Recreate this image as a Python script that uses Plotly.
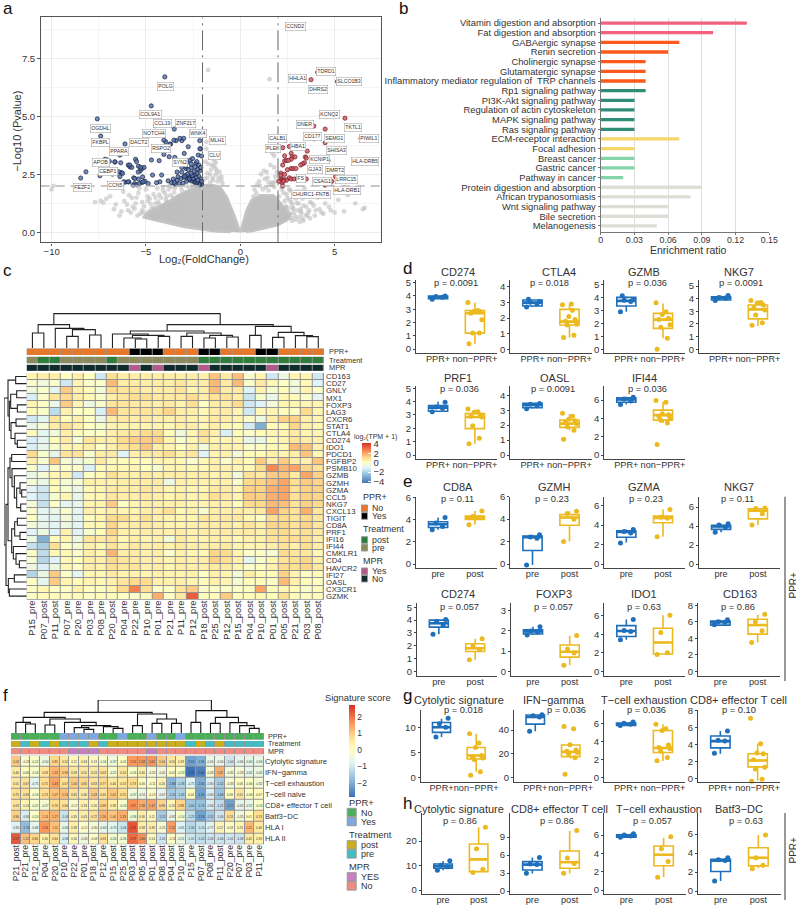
import plotly.graph_objects as go

W, H = 796, 905
FONT = "Liberation Sans"
INK = "#2a2a2a"

# ---------------------------------------------------------------- panel a
BLUE_X = [-8.46,-8.18,-7.58,-7.40,-7.44,-7.26,-7.35,-7.17,-7.05,-6.94,-6.64,-6.41,-6.38,-6.34,-6.77,-6.43,-6.29,-6.24,-6.38,-6.11,-6.11,-5.94,-5.85,-5.9,-5.6,-5.65,-5.55,-5.5,-5.75,-5.4,-5.3,-5.2,-5.1,-5.5,-5.35,-5.2,-5.05,-5.4,-4.72,-4.5,-4.65,-4.7,-4.3,-4.0,-3.5,-3.95,-3.7,-3.4,-3.1,-3.0,-2.35,-2.15,-2.1,-2.14,-2.23,-2.05,-2.76,-3.2,-3.73,-4.05,-3.52,-2.97,-2.65,-2.35,-3.23,-2.88,-2.53,-4.71,-4.3,-4.05,-3.77,-3.47,-4.17,-3.82,-3.64,-4.26,-4.44,-4.65,-4.88,-5.15,-5.29,-5.41,-5.18,-5.68,-5.59,-5.86,-5.95,-6.18,-6.65,-2.05,-2.1,-2.15,-2.2,-2.3,-2.35,-2.4,-2.45,-2.5,-2.55,-2.6,-2.65,-2.7,-2.75,-2.8,-2.9,-3.0,-2.1,-2.2,-2.25,-2.35,-2.4,-2.5,-2.55,-2.6,-2.7,-2.8,-2.85,-2.95,-3.05,-3.15,-3.25,-3.35,-3.45,-3.55,-2.15,-2.25,-2.3,-2.45,-2.6,-2.75,-2.9,-3.1,-3.3,-3.5,-2.2,-2.4,-2.6,-2.85,-3.1,-3.35,-2.05,-2.1,-2.3]
BLUE_Y = [2.34,2.61,4.89,4.15,2.44,3.84,3.81,3.15,3.12,3.06,3.03,3.48,3.33,3.0,2.51,2.61,2.57,2.54,2.4,3.81,2.16,2.9,2.82,2.17,2.1,2.35,3.15,3.05,2.8,2.85,2.65,2.75,2.8,2.05,2.1,2.15,2.2,2.3,5.45,4.6,4.2,4.25,3.6,6.7,4.45,3.9,3.8,3.95,3.95,4.05,4.2,3.95,3.6,3.6,3.33,3.29,3.69,4.05,3.8,3.97,3.97,3.4,3.11,2.97,2.97,2.75,3.18,3.12,3.09,3.36,3.26,3.23,2.47,2.22,2.14,2.18,2.14,2.47,2.1,2.18,2.8,2.6,2.39,2.03,2.32,2.9,2.18,2.18,3.04,2.08,2.12,2.05,2.1,2.15,2.12,2.2,2.18,2.25,2.3,2.22,2.35,2.28,2.4,2.3,2.45,2.38,2.3,2.42,2.25,2.38,2.5,2.32,2.45,2.55,2.3,2.5,2.2,2.42,2.12,2.32,2.1,2.25,2.08,2.3,2.65,2.72,2.55,2.62,2.78,2.7,2.85,2.6,2.4,2.15,2.9,2.82,2.95,3.0,2.8,2.6,2.2,2.8,3.05]
RED_X = [2.5,4.1,3.4,3.75,5.15,4.3,5.55,3.9,4.5,3.9,6.4,2.35,4.5,2.25,2.6,3.55,2.35,2.7,2.75,2.9,2.7,3.45,3.5,3.4,3.3,3.2,2.35,2.45,2.55,2.25,4.65,6.25,2.7,2.8,2.95,2.5,2.15,2.15,2.35,2.6,2.15,2.2,2.3,2.35,2.45,2.7,2.85,3.05,3.5,2.2,2.3,2.05,5.05,4.85,4.75,4.5,2.25,3.05]
RED_Y = [8.85,6.9,6.6,6.58,6.5,5.05,4.92,4.58,4.45,4.03,4.05,3.97,3.86,3.65,3.7,3.5,3.3,3.4,3.25,3.25,3.15,3.25,3.2,3.0,2.95,2.9,3.08,3.1,3.1,2.9,3.1,3.03,2.75,2.75,2.75,2.7,2.55,2.45,2.5,2.35,2.3,2.25,2.25,2.27,2.25,2.3,2.3,2.27,2.3,2.15,2.2,2.2,2.4,2.2,2.1,2.03,2.0,2.35]
GRAY_X = [-9.9,-10.0,-7.4,-7.7,-7.1,-7.25,-6.7,-6.3,-6.0,-5.8,-5.5,-5.2,-4.9,-6.2,-5.9,-5.7,-5.4,-5.0,-4.8,-4.6,-4.4,-4.5,-4.2,-4.0,-3.8,-3.6,-4.6,-4.3,-3.9,-1.7,-1.8,-1.8,-1.6,-1.4,-1.3,-1.5,-1.1,-1.0,-1.3,-1.6,-1.45,-1.2,-1.75,-1.55,-0.95,1.55,1.7,1.8,1.4,1.1,1.6,1.8,1.3,0.9,1.0,1.5,1.75,1.95,1.85,0.75,2.3,2.5,2.7,2.9,3.1,3.3,3.5,3.7,3.9,4.2,4.5,4.8,5.2,5.5,5.7,6.1,6.5,6.6,2.4,2.8,3.2,3.6,4.0,4.4,4.7,5.0,3.0,3.4,2.2,2.6]
GRAY_Y = [2.0,1.85,1.35,1.3,1.45,1.28,1.0,0.9,1.2,0.85,1.5,0.95,1.35,1.75,1.6,1.1,1.7,1.85,1.45,1.65,1.9,1.25,1.5,1.7,1.85,1.95,1.05,1.2,1.55,7.0,3.9,3.6,3.4,3.1,3.0,2.9,2.6,2.4,2.75,2.5,2.25,2.2,2.35,2.7,2.1,6.6,3.4,3.3,2.6,2.5,2.9,2.8,2.3,2.05,2.2,2.15,2.1,2.6,2.4,1.85,1.7,1.5,1.3,1.6,1.25,1.45,1.1,1.3,1.7,1.0,1.25,0.95,1.4,0.9,1.6,1.25,1.0,1.05,1.1,1.0,0.9,0.85,0.95,0.8,1.1,0.85,1.75,1.9,1.95,1.85]
GRAY2_X = [-5.6,-5.3,-5.1,-4.95,-4.75,-4.55,-4.35,-4.15,-3.95,-3.75,-3.55,-3.35,-3.15,-2.95,-2.75,-2.55,-2.35,-5.45,-5.15,-4.85,-4.65,-4.45,-4.25,-4.05,-3.85,-3.65,-3.45,-3.25,-3.05,-2.85,-2.65,-2.45,-2.25,-5.2,-4.9,-4.7,-4.5,-4.3,-4.1,-3.9,-3.7,-3.5,-3.3,-3.1,-2.9,-2.7,-2.5,-2.3,-4.6,-4.4,-4.2,-4.0,-3.8,-3.6,-3.4,-3.2,-3.0,-2.8,-2.6,-2.4,-2.2,-4.1,-3.75,-3.45,-3.15,-2.85,-2.55,-2.25,-6.4,-6.15,-5.95,-5.75,-5.55,-5.35,-6.6,-6.9,-1.9,-1.75,-1.6,-1.45,-1.3,-1.15,-1.0,-1.85,-1.7,-1.55,-1.4,-1.25,2.05,2.15,2.25,2.35,2.45,2.55,2.65,2.75,2.85,2.95,3.05,3.15,3.25,3.35,3.45,3.55,3.65,3.8,3.95,4.1,4.3,2.1,2.2,2.3,2.4,2.5,2.6,2.7,2.8,2.9,3.0,3.1,3.2,3.3,3.5,3.7,3.9,2.15,2.35,2.55,2.75,2.95,3.15,3.35,1.2,1.35,1.5,1.65,1.8,1.9,1.05,0.85,0.7,1.45,1.7,1.25]
GRAY2_Y = [1.02,0.8,1.12,0.78,1.22,0.95,1.32,1.05,1.42,1.12,1.5,1.2,1.62,1.3,1.75,1.45,1.88,0.72,0.85,0.9,0.82,1.05,0.85,1.15,0.95,1.25,1.0,1.4,1.1,1.55,1.2,1.7,1.8,1.3,1.55,1.02,1.5,1.62,1.8,1.3,1.6,1.72,1.55,1.82,1.72,1.92,1.95,1.98,0.72,0.68,0.75,0.78,0.7,0.85,0.82,0.9,0.88,0.8,0.95,1.0,1.1,1.95,2.0,1.92,1.98,2.0,2.02,2.05,0.72,1.35,0.95,1.48,1.25,1.9,1.2,1.55,2.3,2.55,2.15,2.35,2.5,2.35,2.25,3.05,2.95,3.2,2.85,2.65,1.55,1.2,0.95,1.35,1.65,1.05,1.8,1.2,0.85,1.45,0.95,1.75,0.8,1.15,1.55,0.7,0.95,1.25,0.72,1.5,0.85,0.8,1.85,0.65,1.1,0.7,1.4,0.62,1.05,0.7,1.25,0.65,1.0,0.6,0.75,0.6,1.15,0.5,0.55,0.6,0.5,0.55,0.45,0.5,1.85,1.95,1.8,2.05,1.95,2.2,2.0,1.7,1.55,2.35,2.15,2.65]
MASS_LEFT_X = [0.0,-0.3,-0.72,-1.08,-1.45,-1.97,-3.03,-3.9,-4.78,-5.15,-4.0,-3.03,-2.0,-1.24,-0.5]
MASS_LEFT_Y = [0.0,0.7,1.53,1.97,2.03,2.04,1.69,1.3,0.88,0.65,0.42,0.24,0.12,0.04,0.01]
MASS_RIGHT_X = [0.0,0.34,0.6,1.04,1.74,2.0,2.3,2.7,2.46,2.0,0.87,0.3]
MASS_RIGHT_Y = [0.0,0.96,1.39,1.6,1.6,1.4,1.05,0.8,0.52,0.31,0.1,0.01]
THRESH_FC = [-2, 2]
THRESH_P = 2
VOLCANO_LABELS = [("CCND2",886,67),("TDRD1",977,202),("HHLA1",893,223),("SLCO1B3",1048,230),("DHRS2",955,254),("POLG",472,247),("COL9A1",418,329),("KCNQ2",987,329),("CCL19",460,358),("ZNF217",524,358),("DNER",916,361),("TKTL1",1060,369),("OGDHL",270,372),("NOTCH4",427,388),("WNK4",567,386),("CD177",937,397),("SEMG1",1003,402),("PIWIL1",1106,401),("MLH1",627,408),("CALB1",833,403),("FKBPL",272,414),("DACT2",386,414),("RSPO2",453,432),("PLEK",818,433),("HBA1",893,426),("SHISA3",1010,437),("PPARA",327,442),("CLU",625,453),("KCNIP1",959,465),("HLA-DRB5",1095,471),("APOB",276,473),("SYN2",516,473),("GJA3",945,494),("DMRT2",1006,497),("CEBP1",295,502),("FS",902,522),("LRRC15",1039,525),("CSAG1",966,530),("CCN5",322,542),("FEZF2",219,548),("HLA-DRB1",1040,558),("CHURC1-FNTB",934,571)]

# ---------------------------------------------------------------- panel b
PATHWAYS = ["Vitamin digestion and absorption","Fat digestion and absorption","GABAergic synapse","Renin secretion","Cholinergic synapse","Glutamatergic synapse","Inflammatory mediator regulation of  TRP channels","Rp1 signaling pathway","PI3K-Akt signaling pathway","Regulation of actin cytoskeleton","MAPK signaling pathway","Ras signaling pathway","ECM-receptor interaction","Focal adhesion","Breast cancer","Gastric cancer","Pathway in cancer","Protein digestion and absorption","African trypanosomiasis","Wnt signaling pathway","Bile secretion","Melanogenesis"]
ENRICH = [.13,.10,.07,.06,.04,.04,.04,.04,.03,.03,.03,.03,.07,.03,.03,.03,.02,.09,.08,.06,.06,.05]
PATH_COLORS = ["#f2627c"]*2+["#fb5a1c"]*5+["#2f8c76"]*5+["#f6d56b"]*2+["#84d4aa"]*3+["#deded7"]*5

# ---------------------------------------------------------------- panel c
C_COLS = ["P15_pre","P07_post","P11_post","P07_pre","P20_pre","P03_pre","P08_pre","P20_post","P04_pre","P22_pre","P10_pre","P01_pre","P21_pre","P11_pre","P12_pre","P18_post","P25_post","P12_post","P15_post","P04_post","P10_post","P01_post","P05_post","P21_post","P03_post","P08_post"]
C_ROWS = ["CD163","CD27","GNLY","MX1","FOXP3","LAG3","CXCR6","STAT1","CTLA4","CD274","IDO1","PDCD1","FGFBP2","PSMB10","GZMB","GZMH","GZMA","CCL5","NKG7","CXCL13","TIGIT","CD8A","PRF1","IFI16","IFI44","CMKLR1","CD4","HAVCR2","IFI27","OASL","CX3CR1","GZMK"]
C_VALUES = [
[.3,.5,.5,0,.5,0,-1.5,.9,.5,.5,.5,.5,.5,.4,.5,.4,1.4,.6,1.5,-.3,.3,-1.5,-.7,.3,.3,-1.5],
[-.2,-.6,-.2,-1.5,.3,-.2,-.2,1.6,.5,.5,.5,.5,.5,.7,.5,.5,1.6,.6,1.6,-.3,.6,.2,-.1,-.5,.2,-1.2],
[-.6,-.2,-1,1.3,.4,.1,-.5,1,.7,.7,.5,.5,.5,.7,.3,.5,1.5,.5,.6,-1.2,.3,-.3,.1,-.7,.3,-.2],
[-1.3,-.2,.7,1,.5,.2,-.2,.5,.7,.9,.9,.6,.6,.6,1,.5,.8,.8,.5,-1.6,-.3,-.8,.2,.1,-.2,-1.1],
[.3,-.1,-.8,1.3,.3,-.7,-.3,.7,.7,.6,.6,.4,.6,.3,.9,-.1,.5,.5,1,-1.5,-1.2,-.5,.3,.3,.3,.3],
[.1,-.2,-1.8,.4,-.1,0,-1.3,1.6,.7,.7,.8,.7,1.1,.5,.5,.2,.5,.6,.3,-1.5,.2,.3,.1,-.1,1,.3],
[-1.5,-1.1,.7,.1,.4,-.1,-.8,.5,.6,.5,.6,.4,.4,.5,.4,.3,.6,.5,.3,-.2,-.7,.5,1.2,1.2,.4,.3],
[-.8,-.4,.5,.9,.4,0,-.3,.3,.3,.3,.3,.3,.2,.4,.5,.2,.5,.2,.1,-1.4,-3,.1,.2,1.1,.4,.2],
[.1,-1,-.6,.5,.1,-.1,-.1,.4,.6,.7,1,1,.1,-.6,.3,.9,.4,-1.3,.1,-.2,.1,.3,.3,.6,.3,.3],
[-1.3,-1,.1,.6,-.4,.7,.4,.5,1,1.2,1.3,1.2,.3,-.3,.3,.7,.3,.3,.3,-.9,-.8,.1,.3,.7,.5,.4],
[-1.3,-.9,-.3,.3,.3,.5,-.1,.5,.8,.9,1.4,.5,.3,0,.4,-.5,.4,.4,.3,-.2,-.1,.2,.2,1.6,1.5,.4],
[1,-.3,-.9,.8,.8,-.3,.5,.6,-1.2,.4,.6,.6,.9,.4,.7,-1.2,.3,.4,-.5,.1,.1,.5,.3,.5,1.4,.2],
[.4,-.4,1.4,-.4,-.7,-.3,.6,.2,.1,.1,.1,.3,.3,.2,-.2,.2,.4,-.2,.4,.1,1.3,.5,1.3,.5,.4,1.4],
[-.2,-1.2,-.2,-.1,-.2,-1.3,.1,.2,.2,.3,0,-.3,.3,.3,.2,.2,.4,.4,.3,.2,.9,2.5,1.7,2,1.1,.8],
[-.8,-.4,.2,.3,-1.5,-.1,.2,.9,.5,.4,.6,.5,.5,.5,.5,.5,.3,.4,-.5,.8,.6,1.3,1.4,.6,2,1.2],
[-.4,-.8,.2,-.4,-.4,.4,.4,.4,.5,.5,.5,.6,-.7,.4,.4,.4,.4,.4,-.2,1,1.1,1.5,2,.9,1.3,1.1],
[-1.1,-1.5,.1,-.3,-.8,.2,.3,.6,.5,.5,.7,.5,.3,.4,.3,.3,.6,.6,.3,1.2,1.1,1.8,2,.8,1.2,1.2],
[-1.2,-1.6,-.3,.3,-.9,.2,.2,.7,.5,.5,.6,.5,.3,.5,.3,.4,.9,.6,.3,1.3,1.2,1.8,2,.8,1.2,1.1],
[-.5,-1.7,-.1,-1,-.9,.3,.3,1.3,-.1,.3,.5,.4,.4,.4,.3,.3,.4,.4,0,1,1,1.6,1.5,.8,1.2,1],
[-.2,-1.1,-.8,-.3,-1,.4,.2,.5,.3,.3,.5,.5,.9,.2,.4,-.3,.5,.5,.5,.5,.6,2,1.2,.8,1.8,.7],
[-.1,-1,-1,-.5,-1.1,.1,.3,1,1,.4,.9,.4,.3,.3,.3,.7,.5,.6,.6,.2,-.1,.9,1,.7,1,.7],
[-.5,-.9,-1.1,-.7,-1.1,.2,.2,1.1,.5,.5,.6,.5,.3,.3,.4,.5,.5,.6,.4,.7,.5,1.1,1.1,.8,1.1,.7],
[-1.2,-.7,-1.2,.4,-1.2,-.3,.1,1.1,.4,.4,.5,.4,.4,.5,.4,.5,.5,.6,.5,.6,.4,.9,1,.7,.9,.6],
[-.7,-3,.1,.3,-.7,.7,.6,.8,.2,.5,.3,.4,-.5,.6,.4,.3,.5,.4,.2,.4,.4,.8,.9,.9,.9,.5],
[-1.7,-2.2,.9,-.1,-.4,.4,.2,.8,.4,.6,.5,.5,.4,.6,.5,.5,.5,.6,.3,.3,.3,.5,.8,.4,.9,.5],
[-.1,-1.8,.2,.2,-.2,.5,.3,1.7,.5,.6,.4,.5,-.2,.4,.3,.2,1.1,1,.3,-.2,-.1,-.4,1,.7,.7,.2],
[-.4,-2,-1.2,.2,.1,.5,.4,1,.7,.6,.5,.5,.3,.5,.4,.5,1.2,.9,.4,-1,-.3,.3,.8,.9,1.1,.5],
[-.7,-1.3,-.7,.2,-.1,.5,.4,.9,.7,.7,.4,.5,.3,.5,.5,.5,.6,.6,.3,-.2,0,.4,1,.9,1.1,.6],
[-2,-.8,1.3,-.2,-1,.2,.2,.6,.3,.3,.3,.4,.3,.3,.4,-.1,.4,.3,-.5,.5,.1,.1,1.2,.3,-.1,.1],
[-.1,-1,1.3,.3,.1,.3,.2,.4,.7,1,1,.4,.4,.4,.3,.1,.4,.3,-.4,.1,.1,-.1,1.6,.4,.1,0],
[-.1,.2,-.1,-.1,.4,0,-.1,.3,1,2.6,.9,-.1,-.1,.7,1.3,-.2,-.1,-.1,-.1,-.1,2,.1,.2,.1,-.2,.1],
[-.1,.1,.1,.1,.1,-.1,.1,.1,-.1,-.2,.1,1.8,-.1,.6,3.3,.1,.1,1.3,.1,.1,.2,.1,.9,.1,.1,.1],
]
C_PPR = [0,0,0,0,0,0,0,0,0,1,1,1,0,0,0,1,1,0,0,0,1,1,0,0,0,0]
C_MPR = [0,0,0,0,0,0,0,0,0,1,0,1,0,0,0,1,0,0,0,0,0,1,0,0,0,0]
C_TREE_TOP = [103,[70,[45,0,1],[59,2,[55,[35,3,4],[39,5,6]]]],[70,[51,[42,7,[38,[30,8,[27,9,10]],[35,11,12]]],[45,[35,13,14],[38,[30,15,16],[33,17,18]]]],[65,[38,19,20],[47,[32,21,22],[37,23,[34,24,25]]]]]]
C_TREE_LEFT = [68,[56,[33,0,1],[52,[48,[30,2,3],[28,4,5]],[47,[32,6,7],[35,8,[28,9,10]]]]],[62,[56,[50,[45,11,12],[44,13,[37,14,[30,[20,15,[15,16,17]],[18,18,19]]]]],[45,[36,[28,20,21],[20,22,23]],[40,24,[32,25,[22,26,27]]]]],[55,[37,28,29],[52,30,31]]]]

# ---------------------------------------------------------------- panel f
F_COLS = ["P21_post","P21_pre","P12_post","P04_pre","P20_post","P10_pre","P22_pre","P01_pre","P18_post","P12_pre","P15_post","P25_post","P03_post","P05_post","P01_post","P08_post","P04_post","P10_post","P15_pre","P07_post","P08_pre","P11_post","P20_pre","P07_pre","P03_pre","P11_pre"]
F_ROWS = ["Cytolytic signature","IFN−gamma","T−cell exhaustion","T−cell naive","CD8+ effector T cell","Batf3−DC","HLA I","HLA II"]
F_VALUES = [
[1.03,-.23,-.12,-.50,.85,.52,.11,.34,.13,-.16,-.37,-.02,1.55,1.58,1.61,1.04,.55,.33,-2.16,-1.96,-.56,-.56,-1.04,-.66,-.60,-.56],
[.46,.06,-.16,.58,1.23,.99,.58,.55,.53,.63,-.22,.53,-.16,.40,-.32,-.41,.02,-.13,-2.79,-2.60,-.28,1.31,-.35,-.28,-.62,-.45],
[.55,.67,-.75,.75,1.43,.67,1.00,.85,.63,.77,.46,.53,.73,.06,-.11,.26,-1.86,-1.38,-.75,-2.00,-.90,-1.52,-.33,.06,-.06,-.32],
[.75,.69,-.16,.73,1.07,1.13,.65,.46,1.03,.60,1.02,.75,-.37,-.51,-.13,-.67,-1.55,-1.43,.04,-2.16,-.90,-1.66,.09,.55,-.06,.07],
[.63,.24,-.22,-.27,.76,.66,-.17,.33,.26,.89,.38,-.16,1.67,1.38,1.47,.89,.20,.88,-1.60,-1.70,-.94,-1.22,-2.17,-.65,-.57,-.16],
[.96,-.93,-.10,1.14,1.27,-1.09,.35,.43,.72,1.26,1.06,1.33,-.36,.36,.11,-1.52,-.62,-.14,-1.23,-2.18,-1.55,-1.06,.74,-.35,.01,.74],
[-.80,-1.76,-.68,1.58,1.11,-.63,.38,-.12,-.30,-.63,-.70,-1.06,2.31,.38,.39,-.25,1.52,-.81,-1.30,-1.10,-.77,.22,.03,.23,1.21,.46],
[2.27,1.12,.86,.30,.64,-.86,.16,-.43,-.09,.63,-.26,-.26,2.07,1.66,.14,-1.05,-.11,-.51,-1.01,-1.20,-1.03,-1.06,-1.01,-1.08,.45,.33],
]
F_PPR = [0,0,0,0,0,1,1,1,1,0,0,1,0,0,1,0,0,1,0,0,0,0,0,0,0,0]
F_MPR = [0,0,0,0,0,0,1,1,1,0,0,0,0,0,1,0,0,0,0,0,0,0,0,0,0,0]
F_TREE = [99,[62,[47,[32,0,[27,1,2]],[42,[24,3,4],[32,5,[22,[16,6,[11,7,8]],[19,9,[14,10,11]]]]]],[57,[22,12,13],[42,[29,14,15],[29,16,17]]]],[67,[32,18,19],[47,[29,20,21],[31,22,[22,23,[14,24,25]]]]]]

# ---------------------------------------------------------------- box panels
# box = (lower whisker, q1, median, q3, upper whisker)
PN = ["PPR+", "non−PPR+"]
PP = ["pre", "post"]
d_CD274 = dict(title="CD274", p="p = 0.0091", cats=PN, ticks=[0,1,2,3,4,5], a=(3.75,3.8,3.9,4.0,4.0), b=(.4,1.2,2.7,2.9,3.5), pa=[3.75,3.9,3.95,4.0], pb=[.4,1.2,1.2,2.2,2.7,2.8,2.85,2.9,3.5])
d_CTLA4 = dict(title="CTLA4", p="p = 0.018", cats=PN, ticks=[0,1,2,3,4], a=(2.7,2.77,2.98,3.15,3.2), b=(.75,1.55,1.77,2.55,2.9), pa=[2.7,2.9,3.0,3.05,3.2], pb=[.75,.9,1.55,1.6,1.8,1.9,2.1,2.5,2.85,2.9])
d_GZMB = dict(title="GZMB", p="p = 0.036", cats=PN, ticks=[0,1,2,3,4,5], a=(2.9,3.35,3.75,4.02,4.1), b=(.85,1.62,2.3,2.78,3.55), pa=[2.9,3.7,3.8,3.85,4.15], pb=[0,.85,1.7,1.9,2.3,2.4,2.7,2.9,3.6])
d_NKG7 = dict(title="NKG7", p="p = 0.0091", cats=PN, ticks=[0,1,2,3,4,5], a=(3.85,3.9,4.05,4.15,4.25), b=(1.85,2.4,3.15,3.5,3.85), pa=[3.85,4.05,4.1,4.25], pb=[1.9,2.1,2.7,3.1,3.3,3.5,3.65,3.7,3.85])
d_PRF1 = dict(title="PRF1", p="p = 0.036", cats=PN, ticks=[0,1,2,3,4,5], a=(3.25,3.28,3.55,3.7,4.0), b=(.85,1.98,2.85,3.1,3.4), pa=[3.25,3.5,3.6,3.95], pb=[.85,1.25,2.2,2.85,2.9,3.0,3.2,3.25,3.45])
d_OASL = dict(title="OASL", p="p = 0.0091", cats=PN, ticks=[0,1,2,3,4], a=(3.1,3.17,3.35,3.46,3.5), b=(1.65,1.85,2.1,2.35,2.75), pa=[3.1,3.3,3.4,3.45], pb=[1.05,1.65,1.9,2.1,2.2,2.3,2.4,2.6,2.8])
d_IFI44 = dict(title="IFI44", p="p = 0.036", cats=PN, ticks=[0,2,4,6], a=(5.5,5.75,6.05,6.25,6.35), b=(3.5,3.8,4.35,4.9,5.8), pa=[5.5,5.9,6.1,6.3], pb=[1.15,3.5,3.8,4.0,4.2,4.4,4.5,5.75,5.95])
e_CD8A = dict(title="CD8A", p="p = 0.11", cats=PP, ticks=[0,2,4,6], a=(3.1,3.3,3.6,3.82,4.2), b=(3.55,4.03,4.2,4.35,4.8), pa=[3.1,3.4,3.7,4.2], pb=[3.55,4.2,4.3,4.8])
e_GZMH = dict(title="GZMH", p="p = 0.23", cats=PP, ticks=[0,2,4,6], a=(-.1,1.2,2.4,2.5,2.6), b=(2.0,3.45,4.15,4.4,4.7), pa=[-.1,2.3,2.4,2.6], pb=[2.0,4.0,4.5,4.7])
e_GZMA = dict(title="GZMA", p="p = 0.23", cats=PP, ticks=[0,2,4,6], a=(2.2,2.75,3.3,3.42,3.55), b=(2.8,4.25,4.75,4.93,5.6), pa=[2.15,3.2,3.35,3.55], pb=[2.8,4.7,4.8,5.6])
e_NKG7 = dict(title="NKG7", p="p = 0.11", cats=PP, ticks=[0,2,4,6], a=(3.35,3.65,3.95,4.07,4.25), b=(4.1,4.75,5.6,5.8,5.9), pa=[3.35,3.9,4.1,4.25], pb=[4.1,5.3,5.85,5.9])
e_CD274 = dict(title="CD274", p="p = 0.057", cats=PP, ticks=[0,1,2,3,4,5], a=(2.9,3.45,3.75,4.0,4.05), b=(.9,1.55,1.8,2.15,2.55), pa=[2.9,3.6,3.9,4.05], pb=[.9,1.7,2.0,2.55])
e_FOXP3 = dict(title="FOXP3", p="p = 0.057", cats=PP, ticks=[0,1,2,3], a=(1.8,1.85,1.97,2.05,2.2), b=(.3,.7,.97,1.3,1.75), pa=[1.8,1.95,2.0,2.2], pb=[.3,.9,1.1,1.77])
e_IDO1 = dict(title="IDO1", p="p = 0.63", cats=PP, ticks=[0,2,4,6], a=(3.4,3.75,4.35,4.93,5.6), b=(1.8,1.87,3.1,4.64,6.05), pa=[3.4,4.3,4.4,5.6], pb=[1.8,2.0,4.2,6.05])
e_CD163 = dict(title="CD163", p="p = 0.86", cats=PP, ticks=[0,2,4,6,8], a=(5.65,5.6,5.95,6.1,6.25), b=(3.5,4.5,5.6,6.3,6.85), pa=[5.65,5.95,6.0,6.25], pb=[3.5,4.9,6.0,6.9])
g_CYT = dict(title="Cytolytic signature", p="p = 0.018", cats=PN, ticks=[0,5,10], a=(8.1,9.05,10.1,11.05,11.8), b=(1.1,3.7,4.4,6.0,8.8), pa=[8.1,10.1,10.8,11.9], pb=[.4,1.1,3.6,3.9,4.1,4.4,6.0,6.9,8.8])
g_IFN = dict(title="IFN−gamma", p="p = 0.036", cats=PN, ticks=[0,20,40], a=(39,45,51,52.7,53), b=(16,17.5,21.5,27.3,28), pa=[39,51,52,53], pb=[2.5,16.5,20,21,22,23,27.5,41,43])
g_TEX = dict(title="T−cell exhaustion", p="p = 0.036", cats=PN, ticks=[0,2,4,6], a=(5.7,5.75,5.9,6.02,6.15), b=(1.8,2.75,3.25,5.2,5.9), pa=[5.75,5.9,6.0,6.15], pb=[1.85,2.2,2.9,3.2,3.3,3.6,5.2,5.4,5.9])
g_CD8 = dict(title="CD8+ effector T cell", p="p = 0.10", cats=PN, ticks=[0,2,4,6,8], a=(2.9,3.6,4.4,5.0,5.6), b=(-.3,1.35,2.1,2.9,4.1), pa=[2.95,4.4,4.5,5.6], pb=[-.35,-.1,1.1,1.3,2.2,2.9,3.0,4.1,7.1])
h_CYT = dict(title="Cytolytic signature", p="p = 0.86", cats=PP, ticks=[0,10,20], a=(8.1,8.85,9.7,10.6,11.8), b=(7.0,7.5,12.5,18.8,25.5), pa=[8.1,9.5,10.1,11.9], pb=[7.1,8.5,16.8,25.6])
h_CD8 = dict(title="CD8+ effector T cell", p="p = 0.86", cats=PP, ticks=[0,3,6,9], a=(2.9,3.5,4.4,4.9,5.6), b=(2.9,3.8,4.8,6.67,10.0), pa=[2.95,4.4,4.5,5.6], pb=[2.95,4.6,5.5,10.1])
h_TEX = dict(title="T−cell exhaustion", p="p = 0.057", cats=PP, ticks=[0,2,4,6], a=(5.7,5.75,5.9,6.02,6.15), b=(1.4,2.65,3.85,4.8,5.7), pa=[5.75,5.9,6.0,6.15], pb=[1.4,3.1,4.5,5.8])
h_BAT = dict(title="Batf3−DC", p="p = 0.63", cats=PP, ticks=[0,2,4,6], a=(1.05,2.05,3.2,3.35,3.45), b=(2.4,2.65,3.5,4.55,5.9), pa=[1.05,3.2,3.3,3.5], pb=[2.35,2.7,3.5,5.9])

# (data, left, right, top, bottom, tick value, tick px, zero px, title x, title y, p x, p y)
BOX_LAYOUT = [
 (d_CD274,416,497,280,352.7,5,282.7,349,458,271.5,455.7,283),
 (d_CTLA4,510.3,591.7,280,352.7,4,286.7,349.3,559,271.5,549.7,283),
 (d_GZMB,604.3,685,280,352.7,5,284.7,349.3,644,271.5,647,283),
 (d_NKG7,699,780,280,352.7,5,286,349.3,739,271.5,741,283),
 (d_PRF1,416,497,386,458.7,5,388.3,455,458,377.7,459,389.3),
 (d_OASL,510.3,591.7,386,458.7,4,395.3,455,554,377.7,553,389.3),
 (d_IFI44,604.3,685,386,458.7,6,400,455,644,377.7,647,389.3),
 (e_CD8A,416,497,496.7,567.7,6,497.7,564,458,487,457,498.7),
 (e_GZMH,510.3,591.7,496.7,567.7,6,496.7,564,554,487,551.7,498.7),
 (e_GZMA,604.3,685,496.7,567.7,6,505.7,564,644,487,645.7,498.7),
 (e_NKG7,699,780,496.7,567.7,6,507,564,739,487,737.7,498.7),
 (e_CD274,417,497,603,676,5,607.3,671.3,458,594,459.3,606.7),
 (e_FOXP3,511,591.7,603,676,3,610.7,671.3,554,594,553,606.7),
 (e_IDO1,604.3,685,603,676,6,615.7,671.3,643.7,594,644.3,606.7),
 (e_CD163,698,780,603,676,8,605.3,671.3,739.7,594,738.3,606.7),
 (g_CYT,420.7,497,710,781.7,10,727.7,777.3,458.7,700,463.3,710),
 (g_IFN,514,592,710,781.7,40,730,777.3,554,700,566.7,710),
 (g_TEX,604,685,710,781.7,6,723.3,777.3,643.7,700,646.7,710),
 (g_CD8,698,780,710,781.7,8,710.7,778.3,738,700,739.3,710),
 (h_CYT,421.7,500,813,894,20,841,890,458.7,809.3,460,821),
 (h_CD8,510,592,813,894,9,837,891,559.3,809.3,556.7,821),
 (h_TEX,604,686,813,894,6,835,890,658.7,809.3,652.7,821),
 (h_BAT,698,781,813,894,6,834,891,739.3,809.3,745.7,821),
]
JITTER = [-.16,.12,-.06,.19,-.11,.15,-.02,.08,-.19,.05]
BLUE, YEL = "#1f6fba", "#ecb91f"

# ================================================================= helpers
fig = go.Figure()
layout = dict(width=W, height=H, autosize=False, paper_bgcolor="white", plot_bgcolor="rgba(0,0,0,0)",
              margin=dict(l=0, r=0, t=0, b=0, pad=0, autoexpand=False), showlegend=False,
              boxmode="overlay", font=dict(family=FONT, color=INK, size=9))
shapes, annots = [], []
n_ax = [0]

def axes(l, t, r, b, xo=None, yo=None):
    n_ax[0] += 1
    n = n_ax[0]
    sfx = "" if n == 1 else str(n)
    xd = dict(domain=[l/W, r/W], anchor=f"y{sfx}", showgrid=False, zeroline=False)
    yd = dict(domain=[1-b/H, 1-t/H], anchor=f"x{sfx}", showgrid=False, zeroline=False)
    xd.update(xo or {}); yd.update(yo or {})
    layout[f"xaxis{sfx}"] = xd
    layout[f"yaxis{sfx}"] = yd
    return f"x{sfx}", f"y{sfx}"

def txt(x, y, s, size=9, anchor="center", color=INK, angle=0):
    annots.append(dict(xref="paper", yref="paper", x=x/W, y=1-y/H, text=s, showarrow=False,
                       xanchor=anchor, yanchor="middle", textangle=angle,
                       font=dict(size=size, color=color, family=FONT)))

def rect(l, t, r, b, fill, line=None, lw=0):
    shapes.append(dict(type="rect", xref="paper", yref="paper", x0=l/W, x1=r/W, y0=1-b/H, y1=1-t/H,
                       fillcolor=fill, line=dict(color=line or fill, width=lw), layer="below"))

def seg(x0, y0, x1, y1, color, width):
    shapes.append(dict(type="line", xref="paper", yref="paper", x0=x0/W, x1=x1/W, y0=1-y0/H, y1=1-y1/H,
                       line=dict(color=color, width=width)))

def tree(node, xs, ys):
    if not isinstance(node, list):
        return node, 0
    h, a, b = node
    ca, ha = tree(a, xs, ys)
    cb, hb = tree(b, xs, ys)
    xs += [ca, ca, cb, cb, None]
    ys += [ha, h, h, hb, None]
    return (ca+cb)/2, h

def scale(stops):
    lo, hi = stops[0][0], stops[-1][0]
    return [[(v-lo)/(hi-lo), c] for v, c in stops], lo, hi

HIDE = dict(visible=False)
GRIDC = "#929292"

# ================================================================= panel a
xa, ya = axes(40.7, 17.3, 381, 242.3,
    dict(range=[-10.58,7.46], tickvals=[-10,-5,0,5], showgrid=True, gridcolor="#ececec", gridwidth=.7,
         minor=dict(dtick=2.5, showgrid=True, gridcolor="#f5f5f5", gridwidth=.5), ticklabelstandoff=-2,
         showline=True, mirror=True, linecolor="#555", linewidth=1.4, ticks="outside", ticklen=2.5, tickcolor="#555",
         tickfont=dict(size=9.5, color="#333")),
    dict(range=[-.43,9.27], tickvals=[0,2.5,5,7.5], ticktext=["0.0","2.5","5.0","7.5"], showgrid=True, gridcolor="#ececec", gridwidth=.7,
         minor=dict(dtick=1.25, showgrid=True, gridcolor="#f5f5f5", gridwidth=.5),
         showline=True, mirror=True, linecolor="#555", linewidth=1.4, ticks="outside", ticklen=2.5, tickcolor="#555",
         tickfont=dict(size=9.5, color="#333")))
for mx, my in ((MASS_LEFT_X, MASS_LEFT_Y), (MASS_RIGHT_X, MASS_RIGHT_Y)):
    fig.add_trace(go.Scatter(x=mx, y=my, mode="lines", fill="toself", fillcolor="#bfbfbf",
                             line=dict(color="#c4c4c4", width=2.5), xaxis=xa, yaxis=ya))
fig.add_trace(go.Scatter(x=GRAY_X+GRAY2_X, y=GRAY_Y+GRAY2_Y, mode="markers", xaxis=xa, yaxis=ya,
                         marker=dict(size=4.8, color="rgba(190,190,190,.6)", line=dict(width=0))))
fig.add_trace(go.Scatter(x=BLUE_X, y=BLUE_Y, mode="markers", xaxis=xa, yaxis=ya,
                         marker=dict(size=4.2, color="rgba(88,112,170,.8)", line=dict(width=.7, color="#14213d"))))
fig.add_trace(go.Scatter(x=RED_X, y=RED_Y, mode="markers", xaxis=xa, yaxis=ya,
                         marker=dict(size=4.2, color="rgba(214,92,102,.85)", line=dict(width=.7, color="#6e1a22"))))
for v in THRESH_FC:
    shapes.append(dict(type="line", xref=xa, yref=ya, x0=v, x1=v, y0=-.43, y1=9.27,
                       line=dict(color="#666", width=1, dash="20px,5px,2px,5px")))
shapes.append(dict(type="line", xref=xa, yref=ya, x0=-10.58, x1=7.46, y0=THRESH_P, y1=THRESH_P,
                   line=dict(color="#b5b5b5", width=1.4, dash="9px,6px")))
for name, zx, zy in VOLCANO_LABELS:
    annots.append(dict(xref="paper", yref="paper", x=zx/3/W, y=1-zy/3/H, text=name, showarrow=False,
                       font=dict(size=5.2, color="#333", family=FONT), bgcolor="white",
                       bordercolor="#999", borderwidth=.5, borderpad=.8))
txt(204, 259, "Log₂(FoldChange)", 11, color="#333")
txt(17, 131.7, "−Log10 (Pvalue)", 11, color="#333", angle=-90)

# ================================================================= panel b
xb, yb = axes(600.7, 18.3, 769.3, 231.7,
    dict(range=[0,.15], tickvals=[0,.03,.06,.09,.12,.15], ticktext=["0","0.03","0.06","0.09","0.12","0.15"], ticklabelstandoff=-2,
         showgrid=True, gridcolor="#dedede", gridwidth=.8, showline=True, linecolor="#777", linewidth=1,
         ticks="outside", ticklen=2, tickcolor="#777", tickfont=dict(size=8.8, color="#333")),
    dict(range=[21.6,-.49], tickvals=list(range(len(PATHWAYS))), ticktext=PATHWAYS, showline=True, linecolor="#777", linewidth=1,
         ticks="outside", ticklen=2, tickcolor="#777", tickfont=dict(size=9.4, color="#333")))
fig.add_trace(go.Bar(x=ENRICH, y=list(range(len(PATHWAYS))), orientation="h", marker=dict(color=PATH_COLORS, line=dict(width=0)),
                     width=.34, xaxis=xb, yaxis=yb))
txt(688, 250, "Enrichment ratio", 10.5, color="#333")

# ================================================================= panel c
CS_C, zc0, zc1 = scale([(-4.4,"#4575b4"),(-2.6,"#91bfdb"),(-1.2,"#e0f3f8"),(0,"#ffffbf"),(1,"#fedc8e"),(2.4,"#f88d55"),(4.15,"#d73027")])
cl, cr = 26.7, 324
xc, yc = axes(cl, 373, cr, 599.7,
    dict(range=[-.5,25.5], tickvals=list(range(26)), ticktext=C_COLS, tickangle=-90, ticklen=0, ticklabelstandoff=-2, tickfont=dict(size=9.3, color="#333")),
    dict(range=[31.5,-.5], tickvals=list(range(32)), ticktext=C_ROWS, side="right", ticklen=0, ticklabelstandoff=1, tickfont=dict(size=7.8, color="#333")))
rect(cl, 373, cr, 599.7, GRIDC)
fig.add_trace(go.Heatmap(z=C_VALUES, x=list(range(26)), y=list(range(32)), colorscale=CS_C, zmin=zc0, zmax=zc1, xgap=1, ygap=1,
    xaxis=xc, yaxis=yc,
    colorbar=dict(x=362/W, xanchor="left", y=1-443.3/H, yanchor="top", lenmode="pixels", len=40, thicknessmode="pixels", thickness=9,
                  xpad=0, ypad=0, outlinewidth=0, ticks="inside", tickcolor="white", ticklen=2.5, tickvals=[-4,-2,0,2,4],
                  tickfont=dict(size=9.5, color="#333"))))
C_STRIPS = [("PPR+", C_PPR, "#e8772a", "#000000", 348.5, 355),
            ("Treatment", [0 if c.endswith("post") else 1 for c in C_COLS], "#2f7d3a", "#8a8a5c", 356.7, 363.3),
            ("MPR", C_MPR, "#0f2b2b", "#b35a8c", 364.7, 371)]
for lab, vals, c0, c1, t, b in C_STRIPS:
    rect(cl, t, cr, b, GRIDC)
    sx, sy = axes(cl, t, cr, b, dict(range=[-.5,25.5], **HIDE), dict(range=[-.5,.5], **HIDE))
    fig.add_trace(go.Heatmap(z=[vals], x=list(range(26)), y=[0], colorscale=[[0,c0],[1,c1]], zmin=0, zmax=1, xgap=1, showscale=False, xaxis=sx, yaxis=sy))
    txt(327, (t+b)/2, lab, 7.4, "left", "#333")
xs_, ys_ = [], []
tree(C_TREE_TOP, xs_, ys_)
sx, sy = axes(cl, 313, cr, 348, dict(range=[-.5,25.5], **HIDE), dict(range=[0,105], **HIDE))
fig.add_trace(go.Scatter(x=xs_, y=ys_, mode="lines", line=dict(color="#222", width=1.1), xaxis=sx, yaxis=sy))
xs_, ys_ = [], []
tree(C_TREE_LEFT, ys_, xs_)
sx, sy = axes(4, 373, cl, 599.7, dict(range=[68,0], **HIDE), dict(range=[31.5,-.5], **HIDE))
fig.add_trace(go.Scatter(x=xs_, y=ys_, mode="lines", line=dict(color="#222", width=1.1), xaxis=sx, yaxis=sy))
txt(352, 437, "log₂(TPM + 1)", 7, "left", "#333")
def legend(title, y, items, x, sw, sh, size, tsize, gray="#999"):
    txt(x, y, title, tsize, "left", "#333")
    for name, col, t in items:
        rect(x+.5, t, x+.5+sw, t+sh, col, gray, 1)
        txt(x+sw+3, t+sh/2, name, size, "left", "#333")
legend("PPR+", 497.3, [("No","#e8772a",505),("Yes","#000000",512.7)], 361, 6, 6.6, 8.8, 9)
legend("Treatment", 529, [("post","#2f7d3a",536.7),("pre","#8a8a5c",544.4)], 361, 6, 6.6, 8.8, 9)
legend("MPR", 560.7, [("Yes","#b35a8c",568),("No","#0f2b2b",575.4)], 361, 6, 6.6, 8.8, 9)

# ================================================================= panel f
CS_F, zf0, zf1 = scale([(-2.85,"#3b6fb3"),(-1.8,"#8fbcdc"),(-.8,"#e0f3f4"),(0,"#ffffbf"),(.8,"#fedc8e"),(1.7,"#f88d55"),(2.7,"#d73027")])
fl, fr = 11, 264
xf, yf = axes(fl, 755.7, fr, 844.3,
    dict(range=[-.5,25.5], tickvals=list(range(26)), ticktext=F_COLS, tickangle=-90, ticklen=0, ticklabelstandoff=-2, tickfont=dict(size=8.6, color="#333")),
    dict(range=[7.5,-.5], tickvals=list(range(8)), ticktext=F_ROWS, side="right", ticklen=0, tickfont=dict(size=7.6, color="#333")))
rect(fl, 755.7, fr, 844.3, GRIDC)
fig.add_trace(go.Heatmap(z=F_VALUES, x=list(range(26)), y=list(range(8)), colorscale=CS_F, zmin=zf0, zmax=zf1, xgap=1, ygap=1,
    xaxis=xf, yaxis=yf, texttemplate="%{z:.2f}", textfont=dict(size=3, color="#333"),
    colorbar=dict(x=349/W, xanchor="left", y=1-705/H, yanchor="top", lenmode="pixels", len=91.7, thicknessmode="pixels", thickness=6,
                  xpad=0, ypad=0, outlinewidth=0, ticks="", tickvals=[-2,-1,0,1,2], tickfont=dict(size=8.5, color="#333"))))
F_STRIPS = [("PPR+", F_PPR, "#4cae5a", "#7fa8dc", 733, 739.5),
            ("Treatment", [0 if c.endswith("post") else 1 for c in F_COLS], "#c9ae1e", "#45bcc0", 741, 746.7),
            ("MPR", F_MPR, "#ef8b82", "#c77fc0", 748.3, 754.3)]
for lab, vals, c0, c1, t, b in F_STRIPS:
    rect(fl, t, fr, b, GRIDC)
    sx, sy = axes(fl, t, fr, b, dict(range=[-.5,25.5], **HIDE), dict(range=[-.5,.5], **HIDE))
    fig.add_trace(go.Heatmap(z=[vals], x=list(range(26)), y=[0], colorscale=[[0,c0],[1,c1]], zmin=0, zmax=1, xgap=1, showscale=False, xaxis=sx, yaxis=sy))
    txt(266, (t+b)/2, lab, 7.2, "left", "#333")
xs_, ys_ = [], []
tree(F_TREE, xs_, ys_)
sx, sy = axes(fl, 700, fr, 733, dict(range=[-.5,25.5], **HIDE), dict(range=[0,99], **HIDE))
fig.add_trace(go.Scatter(x=xs_, y=ys_, mode="lines", line=dict(color="#111", width=1.1), xaxis=sx, yaxis=sy))
txt(323, 697, "Signature score", 9.4, "left", "#333")
legend("PPR+", 802, [("No","#4cae5a",808.3),("Yes","#7fa8dc",817.3)], 346.7, 9, 8.4, 9, 9.4)
legend("Treatment", 834.7, [("post","#c9ae1e",840.7),("pre","#45bcc0",849.7)], 346.7, 9, 8.4, 9, 9.4)
legend("MPR", 866.7, [("YES","#c77fc0",872.7),("No","#ef8b82",881.7)], 346.7, 9, 8.4, 9, 9.4)

# ================================================================= box panels
for d, l, r, t, b, tv, tpx, zpx, tx, ty, px, py in BOX_LAYOUT:
    u = (zpx - tpx) / tv
    rng = [(zpx - b) / u, (zpx - t) / u]
    bx, by = axes(l, t, r, b,
        dict(range=[-.6,1.6], tickvals=[0,1], ticktext=d["cats"], tickangle=0, showline=True, linecolor="#444", linewidth=1.2,
             ticks="", ticklen=0, ticklabelstandoff=-3, tickfont=dict(size=9.2, color="#333")),
        dict(range=rng, tickvals=d["ticks"], showline=True, linecolor="#444", linewidth=1.2, ticks="outside",
             ticklen=2, tickcolor="#444", tickfont=dict(size=9.5, color="#333")))
    for i, (box, pts, col) in enumerate(((d["a"], d["pa"], BLUE), (d["b"], d["pb"], YEL))):
        fig.add_trace(go.Box(x=[i], lowerfence=[box[0]], q1=[box[1]], median=[box[2]], q3=[box[3]], upperfence=[box[4]],
                             width=.52, whiskerwidth=0, boxpoints=False, fillcolor="rgba(255,255,255,0)",
                             line=dict(color=col, width=1.6), marker=dict(color=col), xaxis=bx, yaxis=by))
        fig.add_trace(go.Scatter(x=[i-.26, i+.26], y=[box[2], box[2]], mode="lines", line=dict(color=col, width=2.6), xaxis=bx, yaxis=by))
        fig.add_trace(go.Scatter(x=[i + JITTER[k % len(JITTER)] for k in range(len(pts))], y=pts, mode="markers",
                                 marker=dict(size=5, color=col, line=dict(width=0)), cliponaxis=False, xaxis=bx, yaxis=by))
    txt(tx, ty, d["title"], 11, color="#333")
    txt(px, py, d["p"], 9.3, color="#333")

seg(785, 496.7, 785, 681, "#555", 1.2)
seg(785, 813, 785, 900, "#555", 1.2)
txt(792.5, 585, "PPR+", 10, color="#333", angle=-90)
txt(792.5, 850, "PPR+", 10, color="#333", angle=-90)

for s, x, y in (("a",1,8),("b",397,8),("c",1,270),("d",401,268),("e",401,481),("f",1,695),("g",401,695),("h",401,803)):
    txt(x, y, s, 17, "left", "#111")

layout["shapes"] = shapes
layout["annotations"] = annots
fig.update_layout(**layout)
fig.write_html("out.html", config={"displayModeBar": False}, post_script="document.body.style.margin='0';")
